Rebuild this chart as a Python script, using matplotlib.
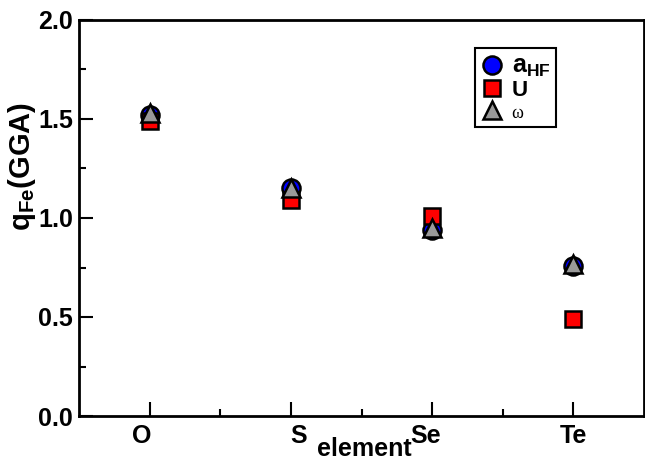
import matplotlib
matplotlib.use('Agg')
import matplotlib.pyplot as plt
from matplotlib.transforms import ScaledTranslation

# data
elements = ['O', 'S', 'Se', 'Te']
x_pos = [1, 2, 3, 4]
q_ahf = [1.52, 1.15, 0.94, 0.76]
q_u = [1.49, 1.09, 1.01, 0.49]
q_omega = [1.53, 1.15, 0.95, 0.77]

plt.rcParams['font.family'] = 'Liberation Sans'
plt.rcParams['font.weight'] = 'bold'
plt.rcParams['mathtext.fontset'] = 'custom'
plt.rcParams['mathtext.bf'] = 'Liberation Sans:bold'
plt.rcParams['mathtext.rm'] = 'Liberation Sans:bold'

fig = plt.figure(figsize=(6.45, 4.63), dpi=100)
ax = fig.add_axes([79/645, 47/463, 565/645, 396/463])

ax.plot(x_pos, q_ahf, 'o', ms=13, mfc='#0000ff', mec='black', mew=1.8, label=r'a$_\mathbf{HF}$', zorder=3)
ax.plot(x_pos, q_u, 's', ms=11.5, mfc='#ff0000', mec='black', mew=1.8, label='U', zorder=4)
ax.plot(x_pos, q_omega, '^', ms=13, mfc='#999999', mec='black', mew=1.8, label='ω', zorder=5)

ax.set_xlim(0.5, 4.5)
ax.set_ylim(0, 2.0)
ax.set_xticks(x_pos)
ax.set_xticklabels(elements)
ax.set_xticks([1.5, 2.5, 3.5], minor=True)
ax.set_yticks([0, 0.5, 1.0, 1.5, 2.0])
ax.set_yticklabels(['0.0', '0.5', '1.0', '1.5', '2.0'])
ax.set_yticks([0.25, 0.75, 1.25, 1.75], minor=True)

ax.tick_params(which='both', direction='in', width=1.5, labelsize=18)
ax.tick_params(which='major', length=10)
ax.tick_params(which='minor', length=5)
ax.tick_params(axis='x', pad=6)
ax.tick_params(axis='y', pad=4.5)
for sp in ax.spines.values():
    sp.set_linewidth(2)

# the category labels are not exactly centred under their ticks in the original
shifts = [-0.08, 0.08, -0.07, 0.0]
for lab, dx in zip(ax.get_xticklabels(), shifts):
    lab.set_transform(lab.get_transform() + ScaledTranslation(dx, 0, fig.dpi_scale_trans))

ax.set_xlabel('element', fontsize=18, fontweight='bold')
ax.xaxis.set_label_coords(0.505, -0.052)
ax.set_ylabel(r'q$_\mathbf{Fe}$(GGA)', fontsize=21, fontweight='bold')
ax.yaxis.set_label_coords(-0.072, 0.63)

leg = ax.legend(loc='upper left', bbox_to_anchor=(0.701, 0.929), borderaxespad=0,
                fancybox=False, framealpha=1, edgecolor='black', fontsize=16,
                handletextpad=0.4, labelspacing=0.05, borderpad=0.25, handlelength=1.0)
leg.get_frame().set_linewidth(1.5)
txts = leg.get_texts()
txts[0].set_fontsize(18)
txts[2].set_fontweight('normal')
txts[2].set_family('Liberation Serif')
txts[2].set_fontsize(13)

fig.savefig('out.png', dpi=100)
